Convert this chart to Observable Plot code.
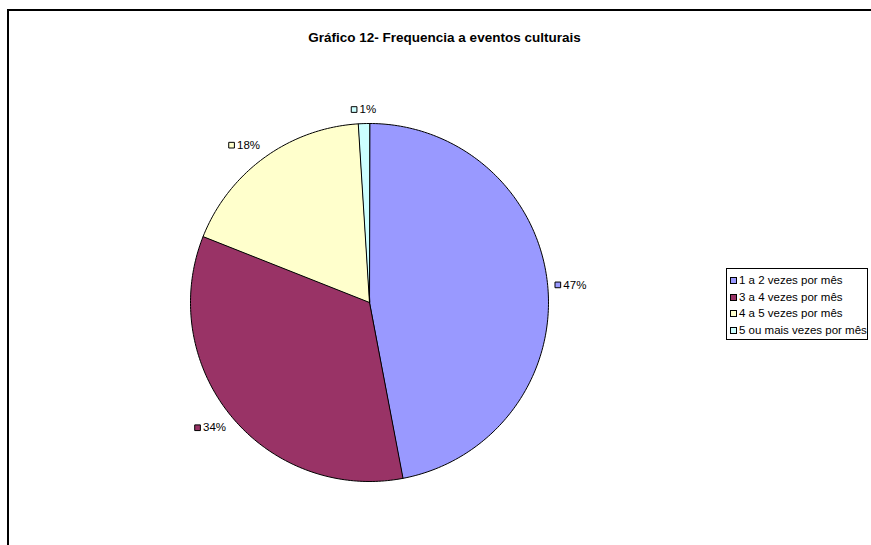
<!DOCTYPE html>
<html>
<head>
<meta charset="utf-8">
<script src="https://cdn.jsdelivr.net/npm/d3@7"></script>
<script src="https://cdn.jsdelivr.net/npm/@observablehq/plot@0.6"></script>
<style>
  html, body { margin: 0; padding: 0; background: #fff; }
  body { font-family: "Liberation Sans", Arial, sans-serif; }
  #wrap { position: relative; width: 871px; height: 545px; overflow: hidden; }
  #frame { position: absolute; left: 7px; top: 9px; width: 900px; height: 600px;
           border-top: 2px solid #000; border-left: 2px solid #000; box-sizing: border-box; }
  #chart { position: absolute; left: 0; top: 0; }
  #title { position: absolute; left: 0; width: 889px; top: 30px; text-align: center;
           font-weight: bold; font-size: 13.5px; line-height: 16px; color: #000; }
  #legend { position: absolute; left: 726px; top: 268px; width: 142px; height: 72px;
            border: 1px solid #000; box-sizing: border-box; background: #fff; }
  .row { position: absolute; left: 3px; height: 16px; line-height: 16px; font-size: 11.5px;
         white-space: nowrap; color: #000; }
  .sw { display: inline-block; width: 7px; height: 7px; border: 1px solid #000;
        box-sizing: border-box; margin-right: 2px; vertical-align: 0px; }
</style>
</head>
<body>
<div id="wrap">
  <div id="frame"></div>
  <div id="chart"></div>
  <div id="title"></div>
  <div id="legend"></div>
</div>
<script>
const title = "Gráfico 12- Frequencia a eventos culturais";
const categories = ["1 a 2 vezes por mês", "3 a 4 vezes por mês", "4 a 5 vezes por mês", "5 ou mais vezes por mês"];
const values = [47, 34, 18, 1];
const labels = ["47%", "34%", "18%", "1%"];
const colors = ["#9999FF", "#993366", "#FFFFCC", "#CCFFFF"];

document.getElementById("title").textContent = title;

// Pie geometry (derived from values)
const R = 179; // px per data unit
const arcs = d3.pie().sort(null)(values);
const pts = [];
arcs.forEach((a, i) => {
  const cat = categories[i];
  pts.push({cat, x: 0, y: 0});
  const n = Math.max(2, Math.ceil((a.endAngle - a.startAngle) / (Math.PI / 180)));
  for (let k = 0; k <= n; k++) {
    const t = a.startAngle + (a.endAngle - a.startAngle) * k / n;
    pts.push({cat, x: Math.sin(t), y: Math.cos(t)});
  }
});

// Label placement (outside along bisector)
const ctx = document.createElement("canvas").getContext("2d");
ctx.font = "11.5px 'Liberation Sans', Arial, sans-serif";
const labelRows = arcs.map((a, i) => {
  const m = (a.startAngle + a.endAngle) / 2;
  const dx = Math.sin(m), dy = -Math.cos(m);
  const px = dx * 1.04 * R, py = dy * 1.045 * R;
  const tw = ctx.measureText(labels[i]).width;
  const w = 8.5 + tw, h = 12;
  const left = dx > 0.3 ? px : dx < -0.3 ? px - w : px - w / 2;
  const top = dy > 0.3 ? py : dy < -0.3 ? py - h : py - h / 2;
  return {cat: categories[i], label: labels[i], sx: (left + 3) / R, tx: (left + 8.5) / R, y: -(top + h / 2) / R};
});

const cx = 369, cy = 302;
const chart = Plot.plot({
  width: 871,
  height: 545,
  margin: 0,
  style: {fontFamily: "'Liberation Sans', Arial, sans-serif", background: "transparent", overflow: "visible"},
  x: {domain: [-1, 1], range: [cx - R, cx + R], axis: null},
  y: {domain: [-1, 1], range: [cy + R, cy - R], axis: null},
  color: {domain: categories, range: colors},
  marks: [
    Plot.line(pts, {x: "x", y: "y", z: "cat", fill: "cat", stroke: "#000", strokeWidth: 1, curve: "linear-closed", strokeLinejoin: "miter"}),
    Plot.dot(labelRows, {x: "sx", y: "y", symbol: "square", r: 3.2, fill: "cat", stroke: "#000", strokeWidth: 1}),
    Plot.text(labelRows, {x: "tx", y: "y", text: "label", textAnchor: "start", fontSize: 11.5, fill: "#000"})
  ]
});
document.getElementById("chart").appendChild(chart);

// Legend
const legend = document.getElementById("legend");
categories.forEach((c, i) => {
  const row = document.createElement("div");
  row.className = "row";
  row.style.top = (3 + i * 16.7) + "px";
  const sw = document.createElement("span");
  sw.className = "sw";
  sw.style.background = colors[i];
  row.appendChild(sw);
  row.appendChild(document.createTextNode(c));
  legend.appendChild(row);
});
</script>
</body>
</html>
